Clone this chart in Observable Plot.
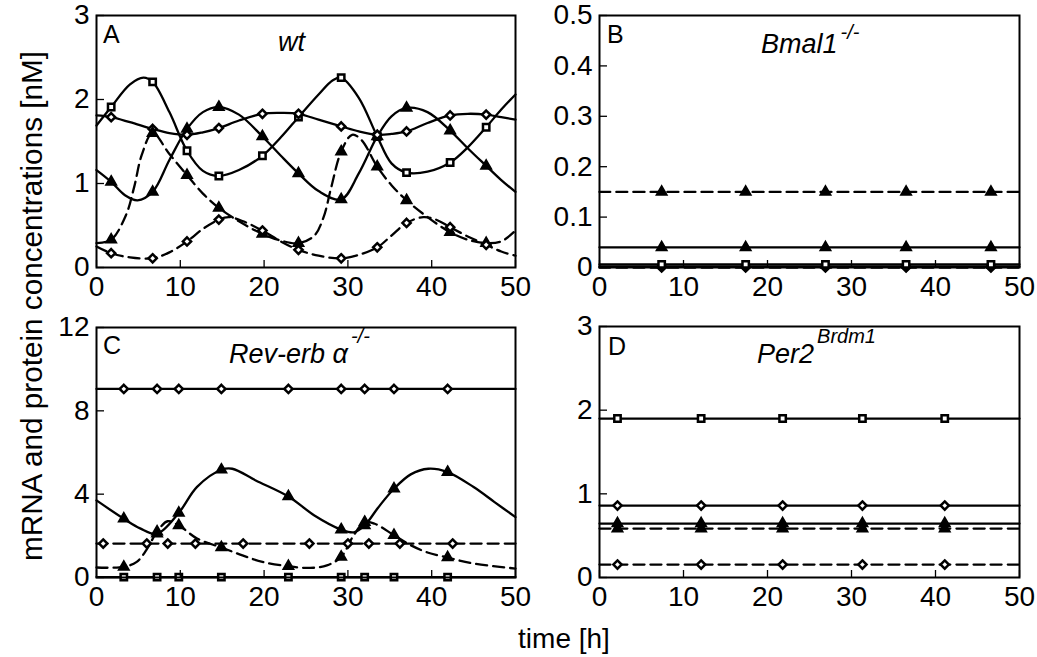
<!DOCTYPE html>
<html><head><meta charset="utf-8">
<script src="https://cdn.jsdelivr.net/npm/d3@7"></script>
<script src="https://cdn.jsdelivr.net/npm/@observablehq/plot@0.6"></script>
<style>
html,body{margin:0;padding:0;background:#fff;}
#wrap{position:relative;width:1037px;height:657px;overflow:hidden;background:#fff;}
#wrap > svg{position:absolute;margin:0;}
</style></head><body><div id="wrap"></div>
<script>
// ---------- shared axis data ----------
const xTicks = [0, 10, 20, 30, 40, 50];
const yTicksA = [0, 1, 2, 3];
const yTicksB = [0, 0.1, 0.2, 0.3, 0.4, 0.5];
const yTicksC = [0, 4, 8, 12];
const yTicksD = [0, 1, 2, 3];

// ---------- Panel A: wt  ([time h, concentration nM]) ----------
const wtMarkerTimes = [1.75, 6.7, 10.8, 14.6, 19.8, 24.1, 29.2, 33.5, 37, 42.2, 46.5];
const wtSquareSolid = [[0,1.69],[1.75,1.91],[4,2.18],[5.6,2.26],[6.7,2.21],[8.7,1.85],[10.8,1.39],[12.7,1.15],[14.6,1.09],[17,1.16],[19.8,1.33],[22,1.55],[24.1,1.79],[26.5,2.06],[28.2,2.23],[29.2,2.26],[31.3,2.02],[33.5,1.56],[35.2,1.24],[37,1.13],[39.5,1.14],[42.2,1.25],[44.3,1.43],[46.5,1.67],[48.3,1.88],[50,2.06]];
const wtTriangleSolid = [[0,1.16],[1.75,1.02],[3.4,0.86],[4.9,0.80],[6.7,0.90],[8.7,1.28],[10.8,1.65],[12.7,1.85],[14.6,1.91],[17,1.82],[19.8,1.56],[22,1.33],[24.1,1.12],[26.5,0.91],[29.2,0.81],[31.3,1.12],[33.5,1.56],[35.2,1.80],[37,1.90],[39.5,1.85],[42.2,1.63],[44.3,1.42],[46.5,1.21],[48.3,1.04],[50,0.90]];
const wtDiamondSolid = [[0,1.81],[1.75,1.79],[4,1.73],[6.7,1.65],[8.7,1.60],[10.8,1.58],[12.7,1.61],[14.6,1.66],[17,1.75],[19.8,1.83],[22,1.84],[24.1,1.83],[26.5,1.76],[29.2,1.68],[31.3,1.62],[33.5,1.58],[35.2,1.59],[37,1.62],[39.5,1.72],[42.2,1.81],[44.3,1.83],[46.5,1.82],[48.3,1.79],[50,1.76]];
const wtTriangleDashed = [[0,0.29],[1.75,0.33],[3.5,0.62],[4.5,0.96],[5.4,1.34],[6.7,1.60],[8.7,1.35],[10.8,1.10],[12.7,0.88],[14.6,0.71],[17,0.55],[19.8,0.40],[22,0.32],[24.1,0.29],[26,0.38],[27.1,0.60],[28,0.95],[29.2,1.38],[30.5,1.58],[31.6,1.52],[33.5,1.20],[35.2,0.98],[37,0.80],[39.5,0.60],[42.2,0.42],[44.3,0.33],[46.5,0.29],[48.3,0.31],[50,0.44]];
const wtDiamondDashed = [[0,0.25],[1.75,0.17],[4,0.12],[6.7,0.11],[8.7,0.18],[10.8,0.31],[12.7,0.46],[14.6,0.57],[15.8,0.60],[17.5,0.55],[19.8,0.44],[22,0.31],[24.1,0.21],[26.5,0.14],[29.2,0.11],[31.3,0.15],[33.5,0.24],[35.2,0.38],[37,0.53],[39,0.60],[40.5,0.57],[42.2,0.48],[44.3,0.37],[46.5,0.27],[48.3,0.19],[50,0.14]];

// ---------- Panel B: Bmal1 -/- (constant levels) ----------
const bmalMarkerTimes = [7.4, 17.4, 26.9, 36.5, 46.6];
const bmalTriangleDashed = 0.15;
const bmalTriangleSolid = 0.04;
const bmalSquareSolid = 0.006;
const bmalDiamondSolid = 0.0015;
const bmalDiamondDashed = 0.0;

// ---------- Panel C: Rev-erb alpha -/- ----------
const revMarkerTimes = [3.26, 7.23, 9.82, 14.9, 22.9, 29.2, 32.0, 35.5, 41.9];
const revDiamondDashedMarkerTimes = [0.8, 6.0, 8.5, 11.8, 17.5, 25.4, 30.0, 32.5, 36.2, 42.5];
const revDiamondSolid = 9.05;
const revSquareSolid = 0.02;
const revDiamondDashed = 1.63;
const revTriangleSolid = [[0,3.70],[3.26,2.82],[5.2,2.36],[7.23,2.10],[9.82,3.10],[12,4.35],[14.9,5.17],[16.2,5.22],[19,4.66],[22.9,3.89],[26,2.98],[29.2,2.30],[30.7,2.17],[32,2.50],[33.6,3.35],[35.5,4.26],[37.5,4.95],[39.6,5.22],[41.9,5.06],[45,4.34],[47.5,3.62],[50,2.90]];
const revTriangleDashed = [[0,0.48],[3.26,0.51],[4.8,0.75],[6,1.35],[7.23,2.20],[8.5,2.70],[9.82,2.50],[12,1.87],[14.9,1.44],[17.5,1.05],[19.8,0.75],[22.9,0.54],[25.5,0.46],[27.5,0.58],[29.2,0.99],[30.7,2.03],[32,2.66],[33.2,2.58],[35.5,2.03],[37.5,1.55],[39.5,1.20],[41.9,0.96],[45,0.67],[50,0.43]];

// ---------- Panel D: Per2 Brdm1 (constant levels) ----------
const perMarkerTimes = [2.14, 12.1, 21.8, 31.3, 41.1];
const perSquareSolid = 1.90;
const perDiamondSolid = 0.86;
const perTriangleSolid = 0.645;
const perTriangleDashed = 0.585;
const perDiamondDashed = 0.155;

// ---------- helpers ----------
const FONT = '"Liberation Sans", Arial, Helvetica, sans-serif';
const T0 = xTicks[0], T1 = xTicks[xTicks.length - 1];
const flat = (v, times) => [T0, ...times, T1].map(t => [t, v]);

function panel(series, yDomain, yTicks, g) {
  const marks = [];
  for (const s of series) {
    const opts = {x: d => d[0], y: d => d[1], curve: "catmull-rom", stroke: "black", strokeWidth: 2.3};
    if (s.dashed) opts.strokeDasharray = "11,6";
    marks.push(Plot.line(s.points, opts));
  }
  for (const s of series) {
    const pts = s.points.filter(p => s.marks.includes(p[0]));
    const tri = s.symbol === "triangle";
    const r = tri ? 3.9 : s.symbol === "square" ? 3.6 : 3.7;
    marks.push(Plot.dot(pts, {x: d => d[0], y: d => d[1], symbol: s.symbol, r,
      fill: tri ? "black" : "white", stroke: "black", strokeWidth: tri ? 1.6 : 2.5}));
  }
  marks.push(Plot.frame({stroke: "black", strokeWidth: 2}));
  marks.push(Plot.axisX({ticks: xTicks, anchor: "bottom", tickSize: -7, tickPadding: 16, fontSize: 28,
    tickFormat: d => String(d), strokeWidth: 1.3, label: null}));
  marks.push(Plot.axisY({ticks: yTicks, anchor: "left", tickSize: -8, tickPadding: 15, fontSize: 28,
    tickFormat: d => String(d), strokeWidth: 1.3, label: null}));
  const svg = Plot.plot({
    width: g.w, height: g.h,
    marginLeft: g.ml, marginRight: g.mr, marginTop: g.mt, marginBottom: g.mb,
    x: {domain: [T0, T1]},
    y: {domain: yDomain},
    style: {fontFamily: FONT, fontSize: "28px", background: "transparent", overflow: "visible", color: "black"},
    marks
  });
  svg.style.left = g.left + "px";
  svg.style.top = g.top + "px";
  return svg;
}

const wrap = document.getElementById("wrap");

wrap.appendChild(panel([
  {points: wtSquareSolid, dashed: false, symbol: "square", marks: wtMarkerTimes},
  {points: wtTriangleSolid, dashed: false, symbol: "triangle", marks: wtMarkerTimes},
  {points: wtDiamondSolid, dashed: false, symbol: "diamond2", marks: wtMarkerTimes},
  {points: wtTriangleDashed, dashed: true, symbol: "triangle", marks: wtMarkerTimes},
  {points: wtDiamondDashed, dashed: true, symbol: "diamond2", marks: wtMarkerTimes}
], [yTicksA[0], yTicksA[yTicksA.length-1]], yTicksA,
  {left: 0, top: 0, w: 520, h: 310, ml: 96, mr: 5, mt: 15, mb: 43}));

wrap.appendChild(panel([
  {points: flat(bmalTriangleDashed, bmalMarkerTimes), dashed: true, symbol: "triangle", marks: bmalMarkerTimes},
  {points: flat(bmalTriangleSolid, bmalMarkerTimes), dashed: false, symbol: "triangle", marks: bmalMarkerTimes},
  {points: flat(bmalDiamondDashed, bmalMarkerTimes), dashed: true, symbol: "diamond2", marks: bmalMarkerTimes},
  {points: flat(bmalDiamondSolid, bmalMarkerTimes), dashed: false, symbol: "diamond2", marks: bmalMarkerTimes},
  {points: flat(bmalSquareSolid, bmalMarkerTimes), dashed: false, symbol: "square", marks: bmalMarkerTimes}
], [yTicksB[0], yTicksB[yTicksB.length-1]], yTicksB,
  {left: 520, top: 0, w: 517, h: 310, ml: 79, mr: 18, mt: 15, mb: 43}));

wrap.appendChild(panel([
  {points: flat(revDiamondSolid, revMarkerTimes), dashed: false, symbol: "diamond2", marks: revMarkerTimes},
  {points: flat(revSquareSolid, revMarkerTimes), dashed: false, symbol: "square", marks: revMarkerTimes},
  {points: flat(revDiamondDashed, revDiamondDashedMarkerTimes), dashed: true, symbol: "diamond2", marks: revDiamondDashedMarkerTimes},
  {points: revTriangleSolid, dashed: false, symbol: "triangle", marks: revMarkerTimes},
  {points: revTriangleDashed, dashed: true, symbol: "triangle", marks: revMarkerTimes}
], [yTicksC[0], yTicksC[yTicksC.length-1]], yTicksC,
  {left: 0, top: 310, w: 520, h: 300, ml: 96, mr: 5, mt: 17, mb: 33}));

wrap.appendChild(panel([
  {points: flat(perSquareSolid, perMarkerTimes), dashed: false, symbol: "square", marks: perMarkerTimes},
  {points: flat(perDiamondSolid, perMarkerTimes), dashed: false, symbol: "diamond2", marks: perMarkerTimes},
  {points: flat(perTriangleSolid, perMarkerTimes), dashed: false, symbol: "triangle", marks: perMarkerTimes},
  {points: flat(perTriangleDashed, perMarkerTimes), dashed: true, symbol: "triangle", marks: perMarkerTimes},
  {points: flat(perDiamondDashed, perMarkerTimes), dashed: true, symbol: "diamond2", marks: perMarkerTimes}
], [yTicksD[0], yTicksD[yTicksD.length-1]], yTicksD,
  {left: 520, top: 310, w: 517, h: 300, ml: 79, mr: 18, mt: 16, mb: 33}));

// ---------- overlay text: panel letters, titles, axis labels ----------
const ov = d3.create("svg").attr("width", 1037).attr("height", 657)
  .style("position", "absolute").style("left", "0px").style("top", "0px")
  .style("pointer-events", "none").style("font-family", FONT).attr("fill", "black");

const letters = [["A", 103, 43], ["B", 607, 43], ["C", 103, 354], ["D", 608, 355]];
for (const [s, x, y] of letters) ov.append("text").attr("x", x).attr("y", y).attr("font-size", 25).text(s);

function title(x, y, main, sup, supDy) {
  const t = ov.append("text").attr("x", x).attr("y", y).attr("font-size", 27).attr("font-style", "italic");
  t.append("tspan").text(main);
  if (sup) t.append("tspan").attr("dx", 3).attr("dy", supDy).attr("font-size", 20).text(sup);
}
title(278, 51, "wt");
title(761, 53, "Bmal1", "-/-", -14);
title(229, 363, "Rev-erb \u03b1", "-/-", -20);
title(757, 363, "Per2", "Brdm1", -20);

ov.append("text").attr("transform", "translate(42,306) rotate(-90)")
  .attr("text-anchor", "middle").attr("font-size", 29)
  .attr("textLength", 510).attr("lengthAdjust", "spacingAndGlyphs")
  .text("mRNA and protein concentrations [nM]");
ov.append("text").attr("x", 564).attr("y", 648)
  .attr("text-anchor", "middle").attr("font-size", 28).text("time [h]");

wrap.appendChild(ov.node());
</script></body></html>
